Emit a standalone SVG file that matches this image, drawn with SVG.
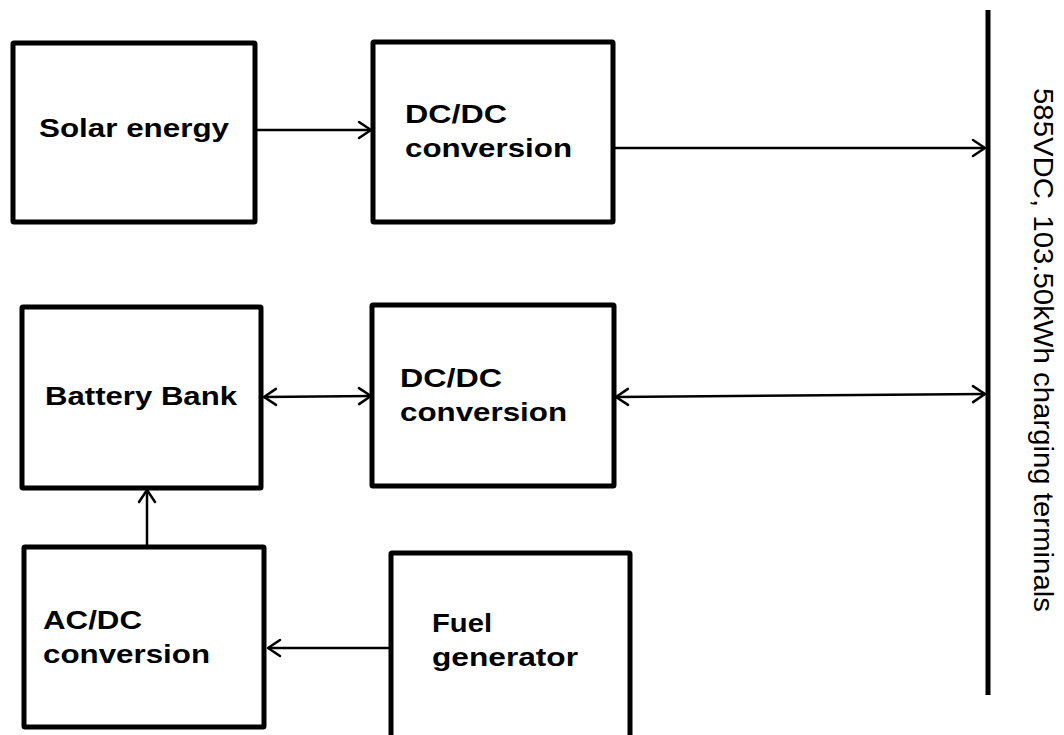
<svg xmlns="http://www.w3.org/2000/svg" width="1064" height="735" viewBox="0 0 1064 735">
  <style>
    .box { fill: #fff; stroke: #000; stroke-width: 5; }
    .lbl { font-family: "Liberation Sans", Arial, sans-serif; font-weight: bold; font-size: 25px; fill: #000; }
    .conn { stroke: #000; stroke-width: 2.5; fill: none; }
    .bus { stroke: #000; stroke-width: 5; }
    .side { font-family: "Liberation Sans", Arial, sans-serif; font-size: 28px; fill: #000; }
  </style>
  <defs>
    <marker id="arr" viewBox="0 0 16 20" markerWidth="16" markerHeight="20" refX="14" refY="10" orient="auto-start-reverse" markerUnits="userSpaceOnUse">
      <path d="M2,2 L14,10 L2,18" fill="none" stroke="#000" stroke-width="2.5" stroke-linecap="round" stroke-linejoin="round"/>
    </marker>
  </defs>
  <rect width="1064" height="735" fill="#fff"/>

  <g id="solar">
    <rect class="box" x="13" y="43" width="242" height="179" rx="1"/>
    <text class="lbl" x="39" y="137" textLength="190" lengthAdjust="spacingAndGlyphs">Solar energy</text>
  </g>
  <g id="dcdc1">
    <rect class="box" x="373" y="42" width="240" height="180" rx="1"/>
    <text class="lbl" x="405" y="123" textLength="102" lengthAdjust="spacingAndGlyphs">DC/DC</text>
    <text class="lbl" x="405" y="157" textLength="167" lengthAdjust="spacingAndGlyphs">conversion</text>
  </g>
  <g id="battery">
    <rect class="box" x="22" y="307" width="239" height="181" rx="1"/>
    <text class="lbl" x="45" y="405" textLength="192" lengthAdjust="spacingAndGlyphs">Battery Bank</text>
  </g>
  <g id="dcdc2">
    <rect class="box" x="372" y="305" width="242" height="181" rx="1"/>
    <text class="lbl" x="400" y="387" textLength="102" lengthAdjust="spacingAndGlyphs">DC/DC</text>
    <text class="lbl" x="400" y="421" textLength="167" lengthAdjust="spacingAndGlyphs">conversion</text>
  </g>
  <g id="acdc">
    <rect class="box" x="24" y="547" width="240" height="180" rx="1"/>
    <text class="lbl" x="43" y="629" textLength="99" lengthAdjust="spacingAndGlyphs">AC/DC</text>
    <text class="lbl" x="43" y="663" textLength="167" lengthAdjust="spacingAndGlyphs">conversion</text>
  </g>
  <g id="fuel">
    <rect class="box" x="391" y="553" width="239" height="200" rx="1"/>
    <text class="lbl" x="432" y="632" textLength="60" lengthAdjust="spacingAndGlyphs">Fuel</text>
    <text class="lbl" x="432" y="666" textLength="146" lengthAdjust="spacingAndGlyphs">generator</text>
  </g>
  <g id="terminals">
    <line class="bus" x1="988" y1="10" x2="988" y2="695"/>
    <text class="side" transform="translate(1034,88) rotate(90)" x="0" y="0" textLength="524" lengthAdjust="spacingAndGlyphs">585VDC, 103.50kWh charging terminals</text>
  </g>

  <g id="connectors">
    <line class="conn" x1="257" y1="130" x2="371" y2="130" marker-end="url(#arr)"/>
    <line class="conn" x1="615" y1="148" x2="985" y2="148" marker-end="url(#arr)"/>
    <line class="conn" x1="264" y1="397" x2="371" y2="396" marker-start="url(#arr)" marker-end="url(#arr)"/>
    <line class="conn" x1="616" y1="397" x2="985" y2="394" marker-start="url(#arr)" marker-end="url(#arr)"/>
    <line class="conn" x1="147" y1="545" x2="147" y2="490" marker-end="url(#arr)"/>
    <line class="conn" x1="389" y1="648" x2="268" y2="648" marker-end="url(#arr)"/>
  </g>
</svg>
